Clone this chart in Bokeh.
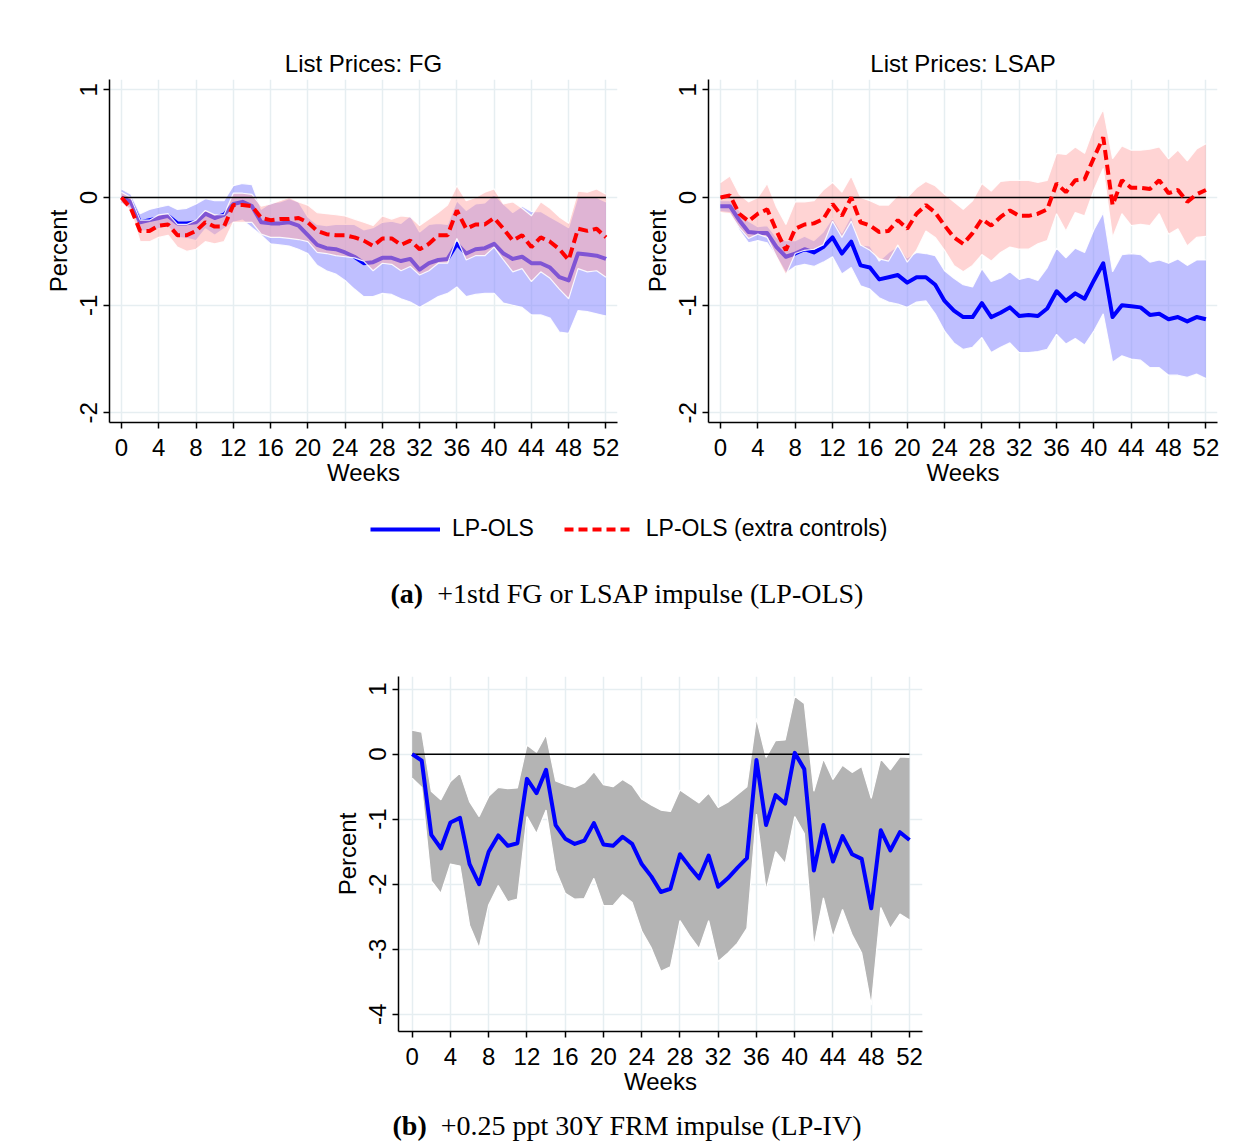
from bokeh.plotting import figure
from bokeh.models import Range1d, FixedTicker, Legend, LegendItem, Div, ColumnDataSource, Spacer
from bokeh.layouts import column, row
from bokeh.embed import file_html
from bokeh.resources import INLINE

# ---------------- data ----------------
weeks = list(range(53))
x_ticks = list(range(0, 53, 4))
y_ticks_top = [1, 0, -1, -2]
y_ticks_bottom = [1, 0, -1, -2, -3, -4]

titles = ["List Prices: FG", "List Prices: LSAP"]
series_names = ["LP-OLS", "LP-OLS (extra controls)"]

# List prices, FG shock
fg_ols = [0.00, -0.04, -0.23, -0.21, -0.19, -0.17, -0.24, -0.24, -0.23, -0.15,
          -0.19, -0.16, -0.06, -0.04, -0.08, -0.23, -0.24, -0.24, -0.23, -0.26,
          -0.35, -0.44, -0.47, -0.48, -0.51, -0.55, -0.61, -0.60, -0.56, -0.56,
          -0.59, -0.57, -0.67, -0.61, -0.58, -0.57, -0.43, -0.52, -0.48, -0.47,
          -0.43, -0.52, -0.57, -0.55, -0.61, -0.61, -0.65, -0.74, -0.77, -0.52,
          -0.53, -0.54, -0.57]
fg_ols_lo = [-0.06, -0.10, -0.31, -0.31, -0.29, -0.27, -0.37, -0.38, -0.40, -0.29,
             -0.35, -0.29, -0.23, -0.21, -0.28, -0.35, -0.43, -0.44, -0.45, -0.48,
             -0.52, -0.63, -0.68, -0.71, -0.77, -0.85, -0.92, -0.92, -0.89, -0.90,
             -0.94, -0.97, -1.02, -0.97, -0.92, -0.89, -0.83, -0.92, -0.90, -0.89,
             -0.89, -0.98, -1.00, -1.02, -1.09, -1.09, -1.12, -1.25, -1.26, -1.05,
             -1.06, -1.08, -1.10]
fg_ols_hi = [0.08, 0.03, -0.15, -0.11, -0.09, -0.07, -0.11, -0.10, -0.06, -0.01,
             -0.03, -0.03, 0.11, 0.13, 0.12, -0.11, -0.05, -0.04, -0.01, -0.04,
             -0.18, -0.25, -0.26, -0.25, -0.25, -0.25, -0.30, -0.28, -0.23, -0.22,
             -0.24, -0.17, -0.32, -0.25, -0.24, -0.25, -0.03, -0.12, -0.06, -0.05,
             0.03, -0.06, -0.14, -0.08, -0.13, -0.13, -0.18, -0.23, -0.28, 0.01,
             0.00, 0.00, -0.04]
fg_ctrl = [0.00, -0.10, -0.31, -0.31, -0.26, -0.25, -0.35, -0.35, -0.31, -0.23,
           -0.27, -0.27, -0.07, -0.07, -0.08, -0.19, -0.21, -0.20, -0.20, -0.19,
           -0.23, -0.31, -0.34, -0.35, -0.35, -0.37, -0.40, -0.45, -0.38, -0.38,
           -0.44, -0.40, -0.48, -0.43, -0.35, -0.35, -0.12, -0.29, -0.25, -0.25,
           -0.19, -0.29, -0.40, -0.35, -0.46, -0.37, -0.41, -0.48, -0.58, -0.29,
           -0.31, -0.29, -0.37]
fg_ctrl_lo = [-0.05, -0.12, -0.41, -0.41, -0.37, -0.35, -0.46, -0.50, -0.48, -0.41,
              -0.43, -0.41, -0.23, -0.23, -0.23, -0.34, -0.37, -0.37, -0.38, -0.39,
              -0.41, -0.51, -0.52, -0.54, -0.55, -0.56, -0.59, -0.68, -0.61, -0.62,
              -0.68, -0.64, -0.72, -0.68, -0.61, -0.61, -0.38, -0.58, -0.54, -0.54,
              -0.46, -0.58, -0.69, -0.66, -0.78, -0.69, -0.75, -0.85, -0.94, -0.66,
              -0.69, -0.68, -0.74]
fg_ctrl_hi = [0.05, 0.00, -0.21, -0.21, -0.16, -0.15, -0.25, -0.25, -0.21, -0.12,
              -0.16, -0.16, 0.04, 0.04, 0.03, -0.08, -0.06, -0.03, 0.00, -0.04,
              -0.07, -0.14, -0.15, -0.16, -0.17, -0.20, -0.23, -0.26, -0.17, -0.20,
              -0.17, -0.18, -0.26, -0.20, -0.14, -0.07, 0.11, -0.03, 0.00, 0.05,
              0.08, -0.06, -0.04, -0.10, -0.17, -0.04, -0.10, -0.18, -0.24, 0.06,
              0.05, 0.08, 0.03]

# List prices, LSAP shock
ls_ols = [-0.08, -0.08, -0.21, -0.32, -0.33, -0.33, -0.46, -0.55, -0.52, -0.48,
          -0.51, -0.46, -0.37, -0.52, -0.41, -0.63, -0.65, -0.76, -0.74, -0.72,
          -0.79, -0.74, -0.74, -0.81, -0.96, -1.05, -1.11, -1.11, -0.98, -1.11,
          -1.07, -1.02, -1.10, -1.09, -1.10, -1.03, -0.87, -0.96, -0.89, -0.94,
          -0.77, -0.61, -1.11, -1.00, -1.01, -1.02, -1.09, -1.08, -1.13, -1.11,
          -1.15, -1.11, -1.13]
ls_ols_lo = [-0.13, -0.14, -0.30, -0.42, -0.40, -0.42, -0.55, -0.70, -0.64, -0.62,
             -0.64, -0.60, -0.55, -0.71, -0.65, -0.82, -0.85, -0.93, -0.97, -0.99,
             -1.02, -0.97, -0.96, -1.08, -1.24, -1.35, -1.41, -1.39, -1.30, -1.44,
             -1.39, -1.35, -1.44, -1.44, -1.43, -1.41, -1.27, -1.36, -1.31, -1.37,
             -1.24, -1.08, -1.53, -1.47, -1.50, -1.51, -1.58, -1.58, -1.65, -1.65,
             -1.67, -1.64, -1.68]
ls_ols_hi = [-0.03, -0.03, -0.12, -0.22, -0.27, -0.26, -0.37, -0.40, -0.40, -0.36,
             -0.40, -0.32, -0.19, -0.33, -0.17, -0.44, -0.45, -0.59, -0.51, -0.45,
             -0.56, -0.51, -0.52, -0.54, -0.68, -0.75, -0.81, -0.83, -0.66, -0.78,
             -0.75, -0.69, -0.76, -0.74, -0.77, -0.65, -0.47, -0.56, -0.47, -0.51,
             -0.30, -0.14, -0.69, -0.53, -0.52, -0.53, -0.60, -0.58, -0.61, -0.57,
             -0.63, -0.58, -0.58]
ls_ctrl = [0.00, 0.02, -0.15, -0.22, -0.15, -0.11, -0.31, -0.49, -0.29, -0.25,
           -0.24, -0.20, -0.06, -0.17, 0.00, -0.23, -0.26, -0.32, -0.31, -0.21,
           -0.29, -0.15, -0.07, -0.14, -0.26, -0.37, -0.43, -0.33, -0.20, -0.26,
           -0.18, -0.12, -0.17, -0.17, -0.15, -0.11, 0.13, 0.05, 0.16, 0.17,
           0.37, 0.56, -0.07, 0.16, 0.09, 0.09, 0.08, 0.16, 0.04, 0.07,
           -0.04, 0.03, 0.07]
ls_ctrl_lo = [-0.14, -0.15, -0.28, -0.38, -0.34, -0.37, -0.55, -0.72, -0.52, -0.49,
              -0.48, -0.44, -0.22, -0.37, -0.22, -0.44, -0.49, -0.57, -0.59, -0.44,
              -0.60, -0.49, -0.31, -0.37, -0.49, -0.63, -0.69, -0.63, -0.53, -0.59,
              -0.51, -0.46, -0.48, -0.48, -0.43, -0.40, -0.15, -0.31, -0.14, -0.17,
              0.07, 0.27, -0.37, -0.15, -0.26, -0.25, -0.26, -0.15, -0.34, -0.29,
              -0.45, -0.37, -0.36]
ls_ctrl_hi = [0.14, 0.20, 0.03, -0.04, 0.00, 0.13, -0.09, -0.25, -0.04, -0.04,
              -0.03, 0.07, 0.14, 0.05, 0.20, 0.00, -0.03, -0.07, -0.07, 0.02,
              0.00, 0.09, 0.15, 0.11, 0.03, -0.04, -0.11, -0.03, 0.13, 0.06,
              0.15, 0.16, 0.16, 0.16, 0.14, 0.16, 0.41, 0.40, 0.47, 0.41,
              0.65, 0.82, 0.36, 0.48, 0.44, 0.44, 0.45, 0.47, 0.36, 0.44,
              0.34, 0.45, 0.50]

# 30Y FRM shock (LP-IV)
frm = [0.00, -0.10, -1.24, -1.45, -1.05, -0.98, -1.69, -2.00, -1.50, -1.25,
       -1.41, -1.37, -0.38, -0.60, -0.24, -1.09, -1.30, -1.38, -1.33, -1.06,
       -1.39, -1.41, -1.27, -1.38, -1.69, -1.88, -2.12, -2.07, -1.54, -1.73,
       -1.91, -1.56, -2.04, -1.91, -1.75, -1.60, -0.09, -1.09, -0.63, -0.76,
       0.02, -0.23, -1.79, -1.09, -1.65, -1.26, -1.54, -1.61, -2.37, -1.17,
       -1.48, -1.20, -1.32]
frm_lo = [-0.37, -0.51, -1.95, -2.14, -1.69, -1.72, -2.63, -2.98, -2.32, -2.02,
          -2.27, -2.23, -0.96, -1.22, -0.86, -1.78, -2.14, -2.23, -2.22, -1.91,
          -2.33, -2.33, -2.16, -2.28, -2.72, -2.98, -3.34, -3.27, -2.56, -2.79,
          -2.99, -2.56, -3.19, -3.06, -2.91, -2.68, -0.92, -2.09, -1.50, -1.68,
          -0.96, -1.22, -2.96, -2.21, -2.81, -2.39, -2.78, -3.06, -3.86, -2.36,
          -2.68, -2.46, -2.55]
frm_hi = [0.37, 0.34, -0.57, -0.70, -0.42, -0.29, -0.73, -0.96, -0.65, -0.51,
          -0.53, -0.52, 0.14, 0.03, 0.30, -0.41, -0.47, -0.51, -0.44, -0.27,
          -0.47, -0.50, -0.39, -0.48, -0.69, -0.78, -0.86, -0.88, -0.55, -0.65,
          -0.75, -0.60, -0.82, -0.74, -0.62, -0.50, 0.55, -0.05, 0.21, 0.22,
          0.89, 0.78, -0.57, -0.07, -0.39, -0.17, -0.28, -0.19, -0.68, -0.07,
          -0.24, -0.04, -0.05]

# ---------------- style ----------------
FONT = "Liberation Sans"
GRID = "#e6eef1"
BLUE = "#0000ff"
RED = "#ff0000"


def style(p, y_ticks):
    xa, ya = p.xaxis[0], p.yaxis[0]
    for ax in (xa, ya):
        ax.axis_line_color = "black"
        ax.axis_line_width = 1.5
        ax.major_tick_line_color = "black"
        ax.major_tick_line_width = 1.5
        ax.major_tick_in = 0
        ax.major_tick_out = 6
        ax.minor_tick_line_color = None
        ax.major_label_text_font = FONT
        ax.major_label_text_font_size = "24px"
        ax.major_label_text_color = "black"
        ax.axis_label_text_font = FONT
        ax.axis_label_text_font_size = "24px"
        ax.axis_label_text_font_style = "normal"
        ax.axis_label_text_color = "black"
    xt = FixedTicker(ticks=x_ticks)
    yt = FixedTicker(ticks=y_ticks)
    xa.ticker = xt
    ya.ticker = yt
    p.xgrid[0].ticker = xt
    p.ygrid[0].ticker = yt
    xa.axis_label = "Weeks"
    ya.axis_label = "Percent"
    xa.major_label_standoff = 10
    xa.axis_label_standoff = 0
    ya.major_label_standoff = 6
    ya.axis_label_standoff = 6
    ya.major_label_orientation = "vertical"
    ya.major_label_overrides = {t: str(t) for t in y_ticks}
    for g in (p.xgrid[0], p.ygrid[0]):
        g.grid_line_color = GRID
        g.grid_line_width = 1.5
    p.outline_line_color = None
    if p.title is not None:
        p.title.text_font = FONT
        p.title.text_font_size = "24px"
        p.title.text_font_style = "normal"
        p.title.text_color = "black"
        p.title.align = "center"
        p.title.standoff = 6


def band(p, src, lo, hi, color, alpha):
    p.varea(x="w", y1=lo, y2=hi, source=src, fill_color=color, fill_alpha=alpha)
    p.line(x="w", y=lo, source=src, line_color="white", line_width=1.2, line_alpha=0.9)
    p.line(x="w", y=hi, source=src, line_color="white", line_width=1.2, line_alpha=0.9)


def zero_line(p):
    p.line(x=[weeks[0], weeks[-1]], y=[0, 0], line_color="black", line_width=1.6)


def top_panel(title, b, b_lo, b_hi, r, r_lo, r_hi, left, right):
    p = figure(width=622, height=500, title=title,
               x_range=Range1d(-1.29, 53.24), y_range=Range1d(-2.089, 1.096),
               min_border_left=left, min_border_right=right,
               min_border_top=79, min_border_bottom=78,
               output_backend="svg", toolbar_location=None)
    style(p, y_ticks_top)
    src = ColumnDataSource(dict(w=weeks, b=b, b_lo=b_lo, b_hi=b_hi, r=r, r_lo=r_lo, r_hi=r_hi))
    band(p, src, "b_lo", "b_hi", "#8080ff", 0.5)
    p.line(x="w", y="b", source=src, line_color=BLUE, line_width=4, line_join="round")
    band(p, src, "r_lo", "r_hi", "#ffaaaa", 0.5)
    zero_line(p)
    p.line(x="w", y="r", source=src, line_color=RED, line_width=4, line_dash="10 5")
    return p


p1 = top_panel(titles[0], fg_ols, fg_ols_lo, fg_ols_hi, fg_ctrl, fg_ctrl_lo, fg_ctrl_hi, 109, 5)
p2 = top_panel(titles[1], ls_ols, ls_ols_lo, ls_ols_hi, ls_ctrl, ls_ctrl_lo, ls_ctrl_hi, 86, 27)

# legend strip (its renderers carry the FG series, kept outside the visible range)
leg = figure(width=1244, height=56, x_range=Range1d(1000, 1001), y_range=Range1d(1000, 1001),
             x_axis_type=None, y_axis_type=None, min_border=0, title=None,
             output_backend="svg", toolbar_location=None)
leg.outline_line_color = None
leg.grid.visible = False
r1 = leg.line(x=weeks, y=fg_ols, line_color=BLUE, line_width=4)
r2 = leg.line(x=weeks, y=fg_ctrl, line_color=RED, line_width=4, line_dash="9 5")
legend = Legend(items=[LegendItem(label=series_names[0], renderers=[r1]),
                       LegendItem(label=series_names[1], renderers=[r2])],
                orientation="horizontal", location=(370, 14),
                glyph_width=70, glyph_height=24, label_height=24,
                label_standoff=12, spacing=30, padding=0, margin=0,
                border_line_color=None, background_fill_alpha=0,
                label_text_font=FONT, label_text_font_size="23px",
                label_text_color="black")
leg.add_layout(legend)

CAP_STYLE = ("font-family:'Liberation Serif', serif; font-size:28px; color:#000; "
             "text-align:center; width:1209px; padding-left:35px; line-height:30px; "
             "white-space:nowrap;")
cap_a = Div(text='<div style="%s padding-top:18px;"><b>(a)</b>&#160; +1std FG or LSAP impulse (LP-OLS)</div>' % CAP_STYLE,
            width=1244, height=75)

# bottom panel
p3 = figure(width=642, height=460, title=None,
            x_range=Range1d(-1.43, 53.36), y_range=Range1d(-4.266, 1.195),
            min_border_left=98, min_border_right=20,
            min_border_top=35, min_border_bottom=70,
            output_backend="svg", toolbar_location=None)
style(p3, y_ticks_bottom)
src3 = ColumnDataSource(dict(w=weeks, m=frm, lo=frm_lo, hi=frm_hi))
p3.varea(x="w", y1="lo", y2="hi", source=src3, fill_color="#b4b4b4", fill_alpha=1.0)
p3.line(x="w", y="lo", source=src3, line_color="white", line_width=1.2)
p3.line(x="w", y="hi", source=src3, line_color="white", line_width=1.2)
zero_line(p3)
p3.line(x="w", y="m", source=src3, line_color=BLUE, line_width=4, line_join="round")

cap_b = Div(text='<div style="%s padding-top:5px;"><b>(b)</b>&#160; +0.25 ppt 30Y FRM impulse (LP-IV)</div>' % CAP_STYLE,
            width=1244, height=40)

layout = column(row(p1, p2), leg, cap_a,
                row(Spacer(width=300, height=460), p3), cap_b)

open("out.html", "w").write(file_html(layout, INLINE))
